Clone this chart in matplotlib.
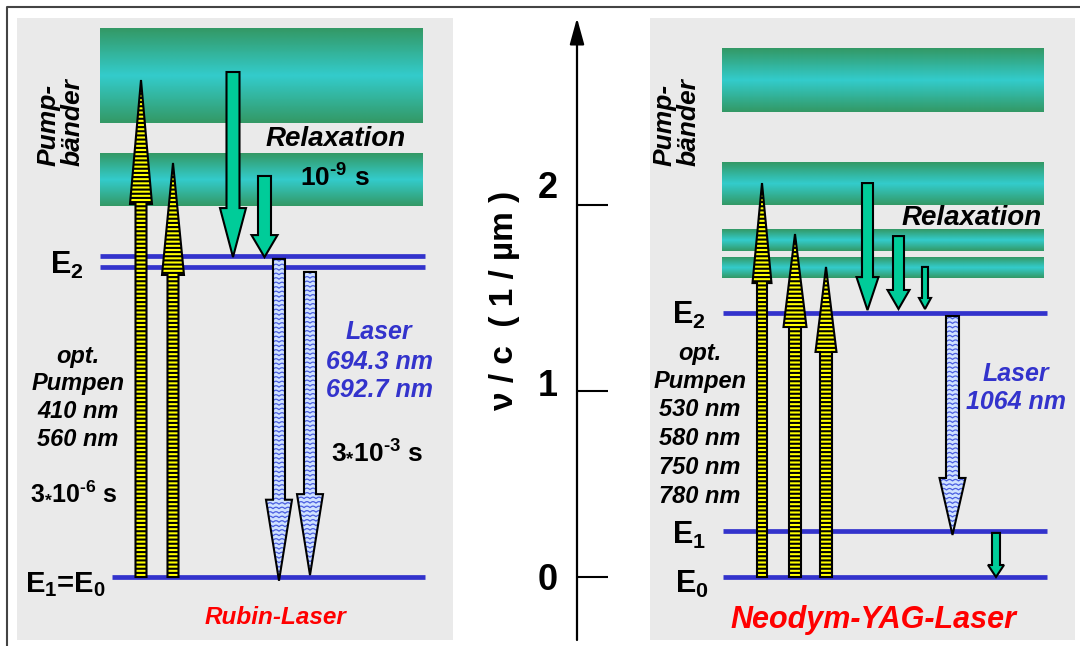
import matplotlib.pyplot as plt
import numpy as np
from matplotlib.patches import Polygon, Rectangle
from matplotlib.colors import LinearSegmentedColormap

plt.rcParams['font.family'] = ['Liberation Sans', 'DejaVu Sans']
plt.rcParams['mathtext.fontset'] = 'custom'
plt.rcParams['mathtext.rm'] = 'Liberation Sans:bold'
plt.rcParams['mathtext.bf'] = 'Liberation Sans:bold'
plt.rcParams['mathtext.it'] = 'Liberation Sans:italic'
plt.rcParams['mathtext.default'] = 'bf'
plt.rcParams['hatch.linewidth'] = 1.5

# --- data: energies as nu/c in 1/um ---------------------------------------
ruby_bands = [(2.44, 2.95), (1.995, 2.275)]
ruby_E2 = [1.726, 1.667]
ruby_E0 = 0.0
ruby_pump_top = [2.672, 2.226]
ruby_relax = [(2.715, 1.720), (2.156, 1.720)]
ruby_laser = [(1.710, -0.02), (1.640, 0.01)]

yag_bands = [(2.50, 2.844), (2.0, 2.226), (1.753, 1.866), (1.608, 1.720)]
yag_E2 = 1.419
yag_E1 = 0.247
yag_E0 = 0.0
yag_pump_top = [2.118, 1.844, 1.667]
yag_relax = [(2.118, 1.435), (1.833, 1.441), (1.667, 1.441), (0.237, 0.0)]
yag_laser = [(1.403, 0.226)]

axis_ticks = [0, 1, 2]
tick_labels = ['0', '1', '2']

# --- layout -----------------------------------------------------------------
PX = 186.0          # drawing pixels per 1/um


def e(py):
    return (577 - py) / PX


YELLOW = '#ffff00'
GREEN = '#00cc99'
LBLUE = '#cfe2ff'
BLUE = '#3333cc'
GRAY = '#eaeaea'

fig = plt.figure(figsize=(10.8, 6.46), dpi=100)
ax = fig.add_axes([0, 0, 1, 1])

band_cmap = LinearSegmentedColormap.from_list('band', ['#339966', '#33cccc', '#339966'])
grad = np.linspace(0, 1, 64).reshape(-1, 1)


def arrow(x, y0, y1, shaft, head, head_len, fc, hatch=None, z=5):
    d = np.sign(y1 - y0)
    yb = y1 - d * head_len / PX
    pts = [(x - shaft / 2, y0), (x - shaft / 2, yb), (x - head / 2, yb), (x, y1),
           (x + head / 2, yb), (x + shaft / 2, yb), (x + shaft / 2, y0)]
    p = Polygon(pts, closed=True, fc=fc, ec='black', lw=1.5, hatch=hatch,
                joinstyle='miter', zorder=z)
    ax.add_patch(p)
    return p


def laser_arrow(x, y0, y1, shaft, head, head_len):
    p = arrow(x, y0, y1, shaft, head, head_len, LBLUE, z=5)
    p.set_edgecolor('none')
    xs = np.linspace(x - head / 2, x + head / 2, 80)
    lo, hi = min(y0, y1), max(y0, y1)
    for yy in np.arange(lo, hi, 4.5 / PX):
        ys = yy + (1.5 / PX) * np.abs(np.sin(np.pi * (xs - x) / 6.0))
        ln, = ax.plot(xs, ys, color='#4a5ee0', lw=0.9, zorder=5.5)
        ln.set_clip_path(p)
    q = arrow(x, y0, y1, shaft, head, head_len, 'none', z=6)
    return q


def label(x, pyc, s, size, ha='center', **kw):
    # place text so that the cap height is centred at pyc
    base = pyc + 0.358 * size * 100 / 72
    ax.text(x, e(base), s, fontsize=size, ha=ha, va='baseline', **kw)


# frame and panels
ax.plot([7, 7, 1080], [e(646), e(7), e(7)], color='#444444', lw=1.5, zorder=0)
ax.add_patch(Rectangle((17, e(640)), 436, e(18) - e(640), fc=GRAY, ec='none', zorder=0))
ax.add_patch(Rectangle((650, e(640)), 425, e(18) - e(640), fc=GRAY, ec='none', zorder=0))

# pump bands
for lo, hi in ruby_bands:
    ax.imshow(grad, extent=(100, 423, lo, hi), cmap=band_cmap, aspect='auto',
              origin='lower', interpolation='bilinear', zorder=1)
for lo, hi in yag_bands:
    ax.imshow(grad, extent=(722, 1044, lo, hi), cmap=band_cmap, aspect='auto',
              origin='lower', interpolation='bilinear', zorder=1)

# levels
ax.hlines(ruby_E2, 100, 425, color=BLUE, lw=3.4, zorder=2)
ax.hlines(ruby_E0, 112, 425, color=BLUE, lw=3.4, zorder=2)
ax.hlines([yag_E2, yag_E1, yag_E0], 723, 1047, color=BLUE, lw=3.4, zorder=2)

# ruby arrows
for x, top, hl in zip([141, 173], ruby_pump_top, [124, 112]):
    arrow(x, ruby_E0, top, 11, 22, hl, YELLOW, hatch='----')
for x, (y0, y1), hl in zip([233, 264.5], ruby_relax, [49, 22]):
    arrow(x, y0, y1, 13, 26, hl, GREEN)
for x, (y0, y1) in zip([279, 310], ruby_laser):
    laser_arrow(x, y0, y1, 12, 26, 81)

# yag arrows
for x, top, sw, hw, hl in zip([762, 795, 826], yag_pump_top, [10, 12, 12],
                              [19, 23, 21], [100, 93, 85]):
    arrow(x, yag_E0, top, sw, hw, hl, YELLOW, hatch='----')
for x, (y0, y1), sw, hw, hl in zip([867.5, 898.5, 925, 996], yag_relax,
                                   [11, 11, 6, 8], [22, 22, 12, 16], [33, 19, 11, 12]):
    arrow(x, y0, y1, sw, hw, hl, GREEN)
for y0, y1 in yag_laser:
    laser_arrow(952.5, y0, y1, 13, 26, 57)

# central axis
ax.annotate('', xy=(577, e(18)), xytext=(577, e(640)),
            arrowprops=dict(arrowstyle='-|>,head_length=0.8,head_width=0.22',
                            mutation_scale=20, lw=1.6, color='black', shrinkA=0, shrinkB=0))
ax.hlines(axis_ticks, 577, 608, color='black', lw=1.5)
for t, lab, py in zip(axis_ticks, tick_labels, [577, 383, 185]):
    label(558, py, lab, 26, ha='right', fontweight='bold')
ax.text(505, e(300), 'ν / c  ( 1 / µm )', fontsize=24, fontweight='bold',
        rotation=90, ha='center', va='center')

# ruby texts
bi = dict(fontweight='bold', fontstyle='italic')
ax.text(61, e(122), 'Pump-\nbänder', fontsize=19, rotation=90, ha='center',
        va='center', multialignment='left', linespacing=1.0, **bi)
label(336, 136, 'Relaxation', 20, **bi)
label(335, 177, r'10$^{\text{-}9}$ s', 19, fontweight='bold')
label(50, 263, r'E$_2$', 22, ha='left', fontweight='bold')
for s, py in zip(['opt.', 'Pumpen', '410 nm', '560 nm'], [355, 382, 410, 438]):
    label(78, py, s, 17, **bi)
label(30, 490, r'3$_{*}$10$^{\text{-}6}$ s', 18, ha='left', fontweight='bold')
for s, py in zip(['Laser', '694.3 nm', '692.7 nm'], [330, 360, 388]):
    label(379, py, s, 18, color=BLUE, **bi)
label(377, 448, r'3$_{*}$10$^{\text{-}3}$ s', 19, fontweight='bold')
label(25, 582, r'E$_1$=E$_0$', 21, ha='left', fontweight='bold')
label(276, 615, 'Rubin-Laser', 17.5, color='red', **bi)

# yag texts
ax.text(677, e(122), 'Pump-\nbänder', fontsize=19, rotation=90, ha='center',
        va='center', multialignment='left', linespacing=1.0, **bi)
label(1042, 215, 'Relaxation', 20, ha='right', **bi)
label(672, 313, r'E$_2$', 22, ha='left', fontweight='bold')
for s, py in zip(['opt.', 'Pumpen', '530 nm', '580 nm', '750 nm', '780 nm'],
                 [352, 380, 408, 437, 466, 495]):
    label(700, py, s, 17, **bi)
for s, py in zip(['Laser', '1064 nm'], [372, 400]):
    label(1016, py, s, 18, color=BLUE, **bi)
label(672, 533, r'E$_1$', 22, ha='left', fontweight='bold')
label(675, 582, r'E$_0$', 22, ha='left', fontweight='bold')
label(873, 617, 'Neodym-YAG-Laser', 22, color='red', **bi)

ax.set_xlim(0, 1080)
ax.set_ylim(e(646), e(0))
ax.axis('off')

plt.savefig('out.png', dpi=100)
